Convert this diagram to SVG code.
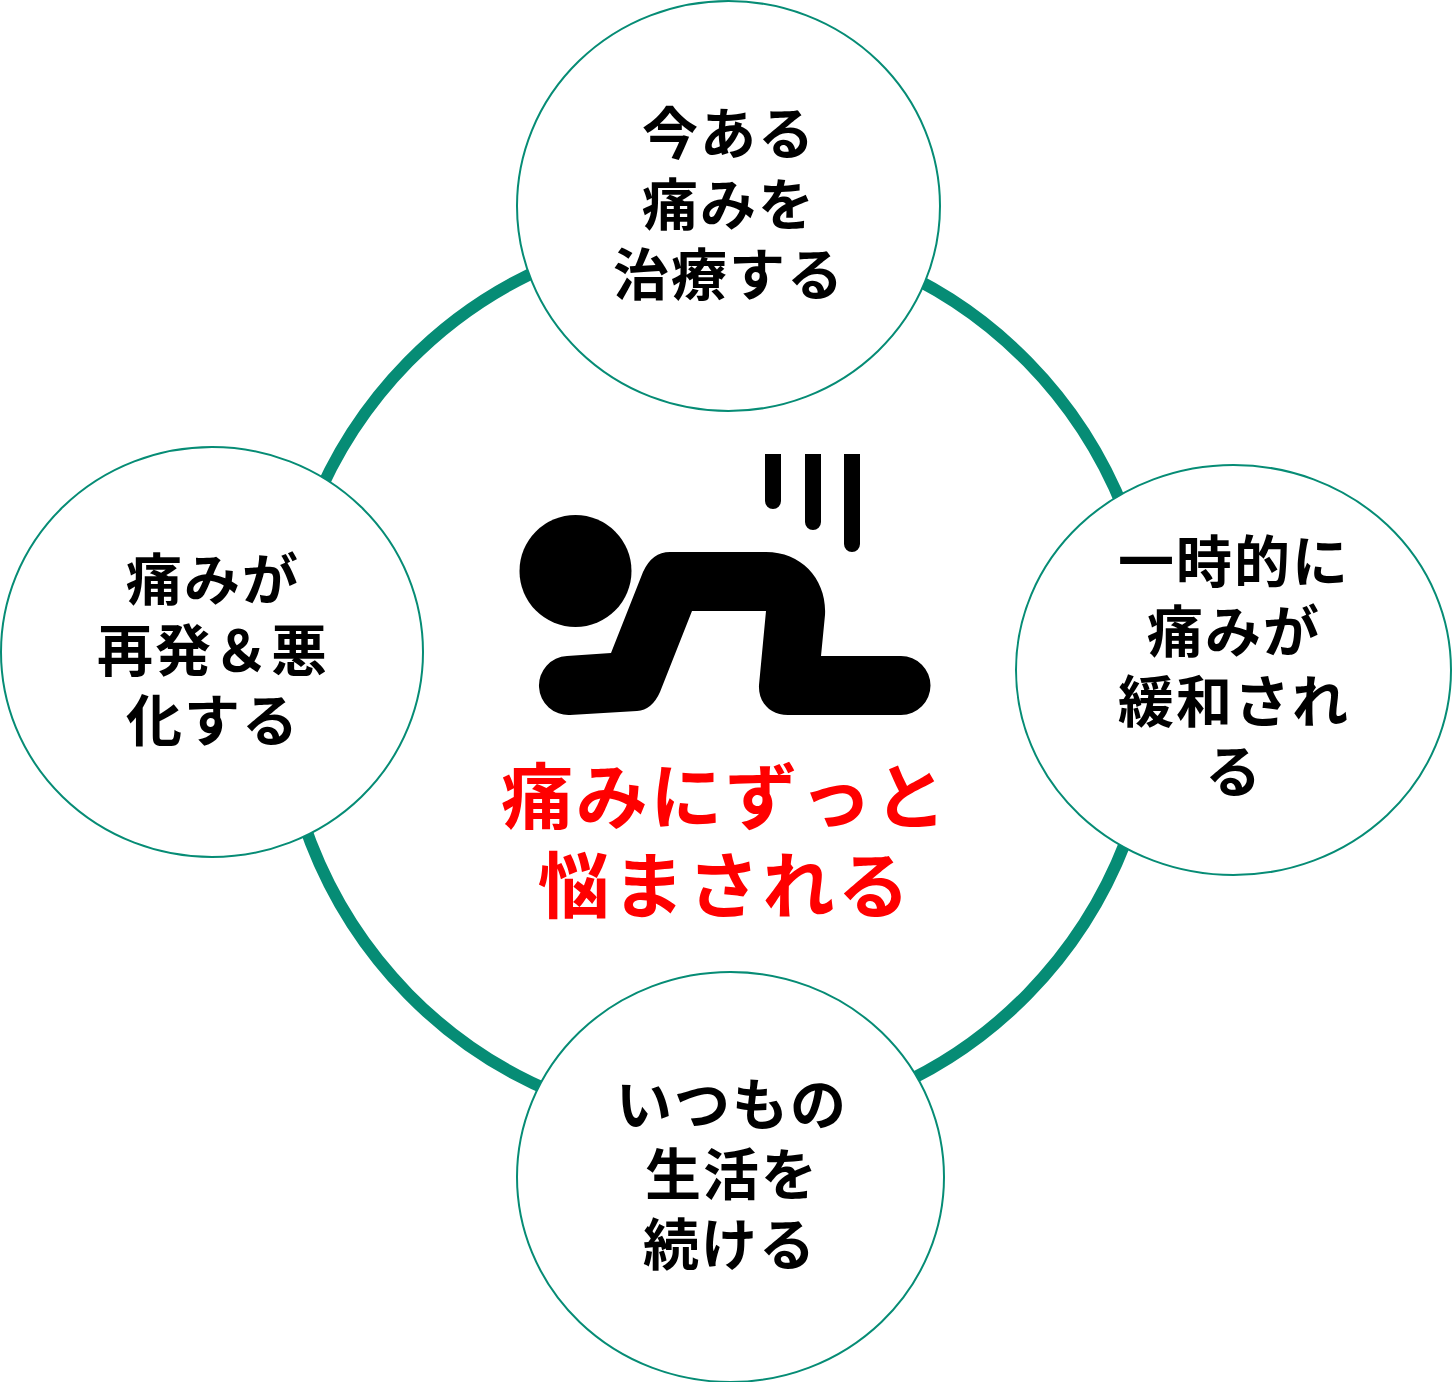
<svg xmlns="http://www.w3.org/2000/svg" width="1452" height="1382" viewBox="0 0 1452 1382">
<style>
.n{fill:#fff;stroke:#068c75;stroke-width:2}
.t{font-family:"Noto Sans CJK JP","Noto Sans CJK SC",sans-serif;font-weight:700;font-size:56px;fill:#000;text-anchor:middle;letter-spacing:2px}
.r{font-family:"Noto Sans CJK JP",sans-serif;font-weight:700;font-size:72px;fill:#f00;text-anchor:middle;letter-spacing:3px}
</style>
<rect width="1452" height="1382" fill="#fff"/>
<g id="connectors"><ellipse cx="718" cy="678" rx="438" ry="447" fill="none" stroke="#068c75" stroke-width="12"/></g>
<g id="node-top"><ellipse class="n" cx="728.500" cy="206" rx="211.500" ry="205"/><text class="t" x="729" y="154">今ある</text><text class="t" x="729" y="225">痛みを</text><text class="t" x="729" y="295">治療する</text></g>
<g id="node-right"><ellipse class="n" cx="1233.500" cy="670" rx="217.500" ry="205"/><text class="t" x="1234" y="582">一時的に</text><text class="t" x="1234" y="652">痛みが</text><text class="t" x="1234" y="722">緩和され</text><text class="t" x="1234" y="792">る</text></g>
<g id="node-bottom"><ellipse class="n" cx="730.500" cy="1177" rx="213.500" ry="205"/><text class="t" x="732" y="1125">いつもの</text><text class="t" x="732" y="1195">生活を</text><text class="t" x="730" y="1265">続ける</text></g>
<g id="node-left"><ellipse class="n" cx="212" cy="652" rx="211" ry="205"/><text class="t" x="213" y="600">痛みが</text><text class="t" x="213" y="671">再発＆悪</text><text class="t" x="213" y="741">化する</text></g>
<g id="center">
<circle cx="575.500" cy="571" r="56"/>
<path d="M567 656L611 653L643 572Q652 552 670 552L766 552C802 552 827 580 825 615L821 656L901 656A29.500 29.500 0 0 1 901 715L788 715C770 715 758 702 759 685L766 611L692 611L660 692Q652 710 637 711L570 715A29.500 29.500 0 0 1 567 656Z"/>
<path d="M765 454H781V501A8 8 0 0 1 765 501ZM805 454H821V522A8 8 0 0 1 805 522ZM844 454H860V544A8 8 0 0 1 844 544Z"/>
<text class="r" x="725" y="823" letter-spacing="2.500" style="letter-spacing:2.500px">痛みにずっと</text><text class="r" x="725" y="912">悩まされる</text>
</g>
</svg>
